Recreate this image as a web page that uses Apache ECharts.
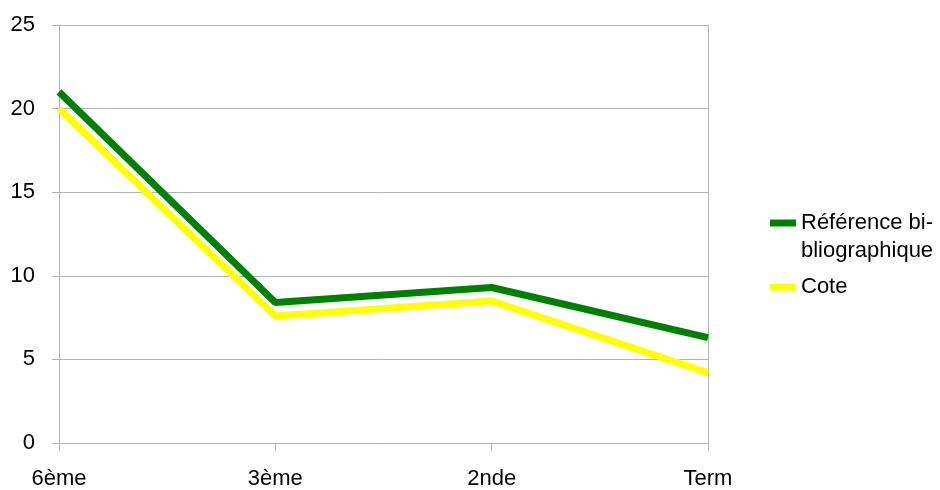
<!DOCTYPE html>
<html>
<head>
<meta charset="utf-8">
<script src="https://cdn.jsdelivr.net/npm/echarts@6/dist/echarts.min.js"></script>
<style>
html,body{margin:0;padding:0;background:#fff;}
#chart{width:940px;height:490px;}
</style>
</head>
<body>
<div id="chart"></div>
<script>
var categories = ['6ème', '3ème', '2nde', 'Term'];
var seriesNames = ['Référence bibliographique', 'Cote'];
var referenceValues = [21.0, 8.4, 9.3, 6.3];
var coteValues = [20.0, 7.6, 8.5, 4.2];
var yTicks = [0, 5, 10, 15, 20, 25];

var FONT = '"Liberation Sans", Arial, sans-serif';
var GRAY = '#b3b3b3';

var chart = echarts.init(document.getElementById('chart'), null, {renderer: 'canvas'});
chart.setOption({
  animation: false,
  backgroundColor: '#ffffff',
  grid: {left: 59, right: 232, top: 25, bottom: 45, containLabel: false},
  legend: {
    orient: 'vertical',
    left: 765,
    top: 176,
    itemWidth: 26,
    itemHeight: 7,
    itemGap: 8,
    icon: 'rect',
    textStyle: {fontFamily: FONT, fontSize: 22, color: '#000', lineHeight: 28},
    formatter: function (name) {
      return name === seriesNames[0] ? ' \nRéférence bi-\nbliographique' : name;
    },
    data: [seriesNames[0], seriesNames[1]]
  },
  xAxis: [{
    type: 'category',
    data: categories,
    boundaryGap: false,
    axisLine: {show: true, lineStyle: {color: GRAY, width: 1}},
    axisTick: {show: true, length: 8, lineStyle: {color: GRAY}},
    axisLabel: {fontFamily: FONT, fontSize: 22, color: '#000', margin: 25},
    splitLine: {show: false}
  }],
  yAxis: [{
    type: 'value',
    min: yTicks[0],
    max: yTicks[yTicks.length - 1],
    interval: 5,
    axisLine: {show: true, lineStyle: {color: GRAY, width: 1}},
    axisTick: {show: true, length: 7, lineStyle: {color: GRAY}},
    axisLabel: {fontFamily: FONT, fontSize: 22, color: '#000', margin: 24},
    splitLine: {show: true, lineStyle: {color: GRAY, width: 1}}
  }, {
    type: 'value',
    position: 'right',
    min: yTicks[0],
    max: yTicks[yTicks.length - 1],
    interval: 5,
    axisLine: {show: true, lineStyle: {color: GRAY, width: 1}},
    axisTick: {show: false},
    axisLabel: {show: false},
    splitLine: {show: false}
  }],
  series: [{
    name: seriesNames[0],
    type: 'line',
    data: referenceValues,
    symbol: 'none',
    color: '#008000',
    lineStyle: {width: 7, color: '#008000'},
    z: 3
  }, {
    name: seriesNames[1],
    type: 'line',
    data: coteValues,
    symbol: 'none',
    color: '#ffff00',
    lineStyle: {width: 7, color: '#ffff00'},
    z: 2
  }]
});
</script>
</body>
</html>
